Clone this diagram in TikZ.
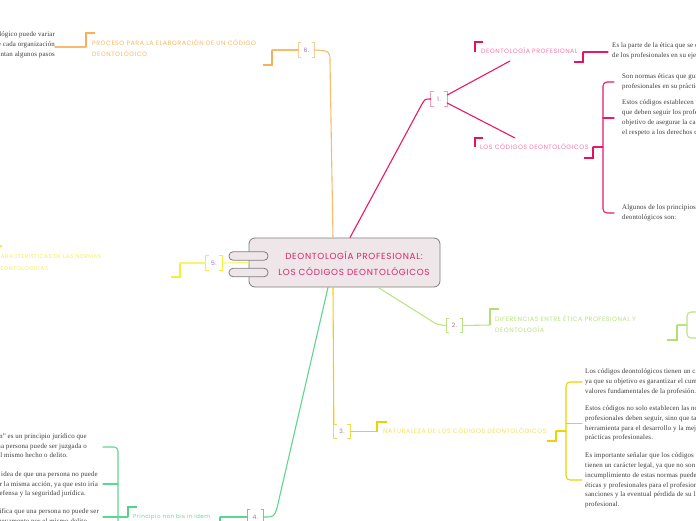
\documentclass[tikz,border=0pt]{standalone}
\usepackage{fontspec}
\setmainfont[LetterSpace=2]{Liberation Serif}
\newfontfamily\handfont[LetterSpace=8]{Poppins}
\definecolor{pinkln}{HTML}{E8196A}
\definecolor{pinkmk}{HTML}{E5135F}
\definecolor{pinktx}{HTML}{F27AAA}
\definecolor{pinkbr}{HTML}{F39AC0}
\definecolor{titletx}{HTML}{D8246A}
\definecolor{orln}{HTML}{F8BA6C}
\definecolor{ormk}{HTML}{F8B058}
\definecolor{ortx}{HTML}{F7B866}
\definecolor{orbr}{HTML}{F8CC98}
\definecolor{yelln}{HTML}{EDD300}
\definecolor{yelmk}{HTML}{EBD200}
\definecolor{yeltx}{HTML}{F0E062}
\definecolor{yelbr}{HTML}{EEDC50}
\definecolor{yfln}{HTML}{F7F272}
\definecolor{yfmk}{HTML}{F5EF3A}
\definecolor{yftx}{HTML}{F4EE5E}
\definecolor{lgln}{HTML}{BCE486}
\definecolor{lgmk}{HTML}{B2DE74}
\definecolor{lgtx}{HTML}{B8E080}
\definecolor{grln}{HTML}{5FD690}
\definecolor{grmk}{HTML}{55D188}
\definecolor{grtx}{HTML}{66D998}
\definecolor{numtx}{HTML}{A070B8}
\definecolor{bodytx}{HTML}{3A3A3A}
\definecolor{boxfill}{HTML}{EFE6EA}
\definecolor{boxln}{HTML}{7E7E7E}
\newcommand\bodyfs{\fontsize{6.9}{9.8}\selectfont}
\newcommand\lblfs{\handfont\fontsize{6.3}{11}\selectfont}
\newcommand\lblsmfs{\handfont\fontsize{5.6}{11.5}\selectfont}
\newcommand\numfs{\handfont\fontsize{6}{7}\selectfont}
\newcommand\titlefs{\handfont\fontsize{8.8}{16}\selectfont}
\newcommand\princfs{\handfont\fontsize{5.6}{7}\selectfont}
\newcommand\numbr[2]{%
  \draw[#2,line width=0.9pt] ([xshift=3pt]#1.north west) -- (#1.north west) -- (#1.south west) -- ([xshift=3pt]#1.south west);
  \draw[#2,line width=0.9pt] ([xshift=-3pt]#1.north east) -- (#1.north east) -- (#1.south east) -- ([xshift=-3pt]#1.south east);}
\begin{document}
\begin{tikzpicture}[x=1pt,y=-1pt,
  conn/.style={line width=1.1pt,line cap=round},
  mk/.style={line width=2.4pt},
  body/.style={font=\bodyfs,text=bodytx,inner sep=0pt,align=left,anchor=west},
  bodyr/.style={font=\bodyfs,text=bodytx,inner sep=0pt,align=right,anchor=east},
  lbl/.style={font=\lblfs,inner sep=0pt,anchor=west,align=left},
  numl/.style={font=\numfs,text=numtx,inner sep=0pt,minimum width=16pt,minimum height=14pt}]
\useasboundingbox (0,0) rectangle (696,520);
\clip (0,0) rectangle (696,520);

% ---------- central node ----------
\node[draw=boxln,fill=boxfill,rounded corners=6pt,line width=0.8pt,minimum width=191pt,minimum height=49pt,inner sep=0pt] (ctr) at (344.5,262.5) {};
\node[font=\titlefs,text=titletx,align=center,inner sep=0pt] (title) at (354,263) {DEONTOLOGÍA PROFESIONAL:\\LOS CÓDIGOS DEONTOLÓGICOS};

% ---------- number labels ----------
\node[numl] (n6) at (306.5,50) {6.};
\node[numl] (n1) at (439,99) {1.};
\node[numl] (n2) at (454.5,325.5) {2.};
\node[numl] (n3) at (342,431.5) {3.};
\node[numl] (n4) at (255.5,517) {4.};
\node[numl] (n5) at (214,263) {5.};
\numbr{n6}{orbr}
\numbr{n1}{pinkbr}
\numbr{n2}{lgln}
\numbr{n3}{yelbr}
\numbr{n4}{grln}
\numbr{n5}{yfmk}

% ---------- topic labels ----------
\node[lbl,text=ortx] (t6) at (92,48.5) {PROCESO PARA LA ELABORACIÓN DE UN CÓDIGO\\DEONTOLÓGICO};
\node[lbl,text=pinktx] (t1a) at (481,50.5) {DEONTOLOGÍA PROFESIONAL};
\node[lbl,text=pinktx] (t1b) at (480,147) {LOS CÓDIGOS DEONTOLÓGICOS};
\node[lbl,text=lgtx] (t2) at (495,324.5) {DIFERENCIAS ENTRE ÉTICA PROFESIONAL Y\\DEONTOLOGÍA};
\node[lbl,text=yeltx] (t3) at (383,431) {NATURALEZA DE LOS CÓDIGOS DEONTOLÓGICOS};
\node[lbl,font=\lblsmfs,text=yftx] (t5) at (-4,262) {CARACTERÍSTICAS DE LAS NORMAS\\DEONTOLÓGICAS};
\node[font=\princfs,text=grtx,inner sep=0pt,anchor=west] (t4) at (133,517) {Principio non bis in idem};

% ---------- markers ----------
\draw[mk,ormk] (95,33) -- (86,33) -- (86,47);
\draw[mk,ormk] (272,50) -- (272,65) -- (263,65);
\draw[mk,pinkmk] (483,42) -- (475,42) -- (475,52);
\draw[mk,pinkmk] (583,52) -- (583,62) -- (574,62);
\draw[mk,pinkmk] (483,138) -- (475,138) -- (475,147);
\draw[mk,pinkmk] (593,147) -- (593,158) -- (584,158);
\draw[mk,lgmk] (499,309) -- (490,309) -- (490,325);
\draw[mk,lgmk] (677,325) -- (677,340) -- (667,340);
\draw[mk,yelmk] (387,422) -- (377,422) -- (377,431.5);
\draw[mk,yelmk] (556,431) -- (556,441) -- (547,441);
\draw[mk,yfmk] (2,246) -- (-7,246) -- (-7,262);
\draw[mk,yfmk] (180,263) -- (180,277) -- (171,277);
\draw[mk,grmk] (137,507) -- (128,507) -- (128,517);
\draw[mk,grmk] (220,517) -- (220,527) -- (211,527);

\coordinate (t6L) at (86,47);
\coordinate (t6R) at (272,50);
\coordinate (t1aB) at (510,61);
\coordinate (t1aR) at (583,52);
\coordinate (t1bT) at (515,138);
\coordinate (t1bR) at (593,147);
\coordinate (t2L) at (490,325);
\coordinate (t2R) at (677,325);
\coordinate (t3L) at (377,431.5);
\coordinate (t3R) at (556,431);
\coordinate (t5R) at (180,263);
\coordinate (t4L) at (128,517);
\coordinate (t4R) at (220,517);

% ---------- body texts ----------
\node[bodyr] (o1) at (55,45) {El proceso para la elaboración de un código deontológico puede variar\\dependiendo de cada organización\\pero en general se presentan algunos pasos};
\node[body] (pa) at (612,51) {Es la parte de la ética que se ocupa de los deberes y obligaciones\\de los profesionales en su ejercicio profesional.};
\node[body] (p1) at (622,82) {Son normas éticas que guían a los\\profesionales en su práctica profesional.};
\node[body] (p2) at (622,118) {Estos códigos establecen un conjunto de normas\\que deben seguir los profesionales con el\\objetivo de asegurar la calidad del servicio y\\el respeto a los derechos de las personas.};
\node[body] (p3) at (622,213) {Algunos de los principios\\deontológicos son:};
\node[body] (y1) at (585,382) {Los códigos deontológicos tienen un carácter ético,\\ya que su objetivo es garantizar el cumplimiento de los\\valores fundamentales de la profesión.};
\node[body] (y2) at (585,423.5) {Estos códigos no solo establecen las normas que los\\profesionales deben seguir, sino que también son una\\herramienta para el desarrollo y la mejora de las\\prácticas profesionales.};
\node[body] (y3) at (585,480.5) {Es importante señalar que los códigos deontológicos no\\tienen un carácter legal, ya que no son leyes, pero el\\incumplimiento de estas normas puede tener consecuencias\\éticas y profesionales para el profesional, como\\sanciones y la eventual pérdida de su licencia\\profesional.};
\node[bodyr] (g1) at (87,446.5) {``Non bis in idem'' es un principio jurídico que\\establece que ninguna persona puede ser juzgada o\hspace*{17pt}\\castigada dos veces por el mismo hecho o delito.\hspace*{19pt}};
\node[bodyr] (g2) at (98,484.5) {Se basa en la idea de que una persona no puede\\ser juzgada dos veces por la misma acción, ya que esto iría\hspace*{1pt}\\en contra del derecho a la defensa y la seguridad jurídica.\hspace*{12pt}};
\node[bodyr] (g3) at (99,517) {Esto significa que una persona no puede ser\\juzgada nuevamente por el mismo delito.\hspace*{10pt}};

% ---------- connectors ----------
% branch 6 (orange)
\draw[conn,orln] ([xshift=-11.5pt]ctr.north) -- (330,62) .. controls (330,51) .. (n6.east);
\draw[conn,orln] (n6.west) -- (t6R);
\draw[conn,orln] (t6L) -- (o1.east |- t6L);
% branch 1 (pink)
\draw[conn,pinkln] ([xshift=5.5pt]ctr.north) -- (422,104) .. controls (425,99) .. (n1.west);
\draw[conn,pinkln] ([yshift=4pt]n1.east) -- (t1aB);
\draw[conn,pinkln] ([yshift=-4pt]n1.east) -- (t1bT);
\draw[conn,pinkln] (t1aR) -- (608,52);
\draw[conn,pinkln] (t1bR) -- (603,147);
\draw[conn,pinkln,rounded corners=4pt] (614,82) -- (603,82) -- (603,213) -- (614,213);
\draw[conn,pinkln] (603,118) -- (614,118);
% branch 5 (light yellow)
\draw[conn,yfln] (ctr.west) -- (n5.east);
\draw[conn,yfln] (n5.west) -- (t5R);
% branch 2 (light green)
\draw[conn,lgln] ([xshift=33.5pt]ctr.south) -- (430,320) .. controls (437,324.5) .. (n2.west);
\draw[conn,lgln] (n2.east) -- (t2L);
\draw[conn,lgln] (t2R) -- (687,325);
\draw[conn,lgln,rounded corners=4pt] (700,312) -- (687,312) -- (687,338) -- (700,338);
% branch 3 (yellow)
\draw[conn,yelln] ([xshift=-11.5pt]ctr.south) -- (n3.north west);
\draw[conn,yelln] (n3.east) -- (t3L);
\draw[conn,yelln] (t3R) -- (566,431);
\draw[conn,yelln,rounded corners=4pt] (582,382) -- (566,382) -- (566,480) -- (582,480);
\draw[conn,yelln] (566,423.5) -- (582,423.5);
% branch 4 (green)
\draw[conn,grln] ([xshift=-16.5pt]ctr.south) -- (277,508) .. controls (274,517) .. (n4.east);
\draw[conn,grln] (n4.west) -- (t4R);
\draw[conn,grln] (t4L) -- (118,517);
\draw[conn,grln,rounded corners=4pt] (103,447) -- (118,447) -- (118,535);
\draw[conn,grln] (118,484) -- (103,484);
\draw[conn,grln] (118,517) -- (103,517);

% ---------- tabs on the central node ----------
\node[draw=boxln,fill=boxfill,rounded corners=4pt,line width=0.8pt,minimum width=39pt,minimum height=8.5pt,inner sep=0pt] (tab1) at (248.5,256) {};
\node[draw=boxln,fill=boxfill,rounded corners=4pt,line width=0.8pt,minimum width=39pt,minimum height=8.5pt,inner sep=0pt] (tab2) at (248.5,272.5) {};
\end{tikzpicture}
\end{document}
